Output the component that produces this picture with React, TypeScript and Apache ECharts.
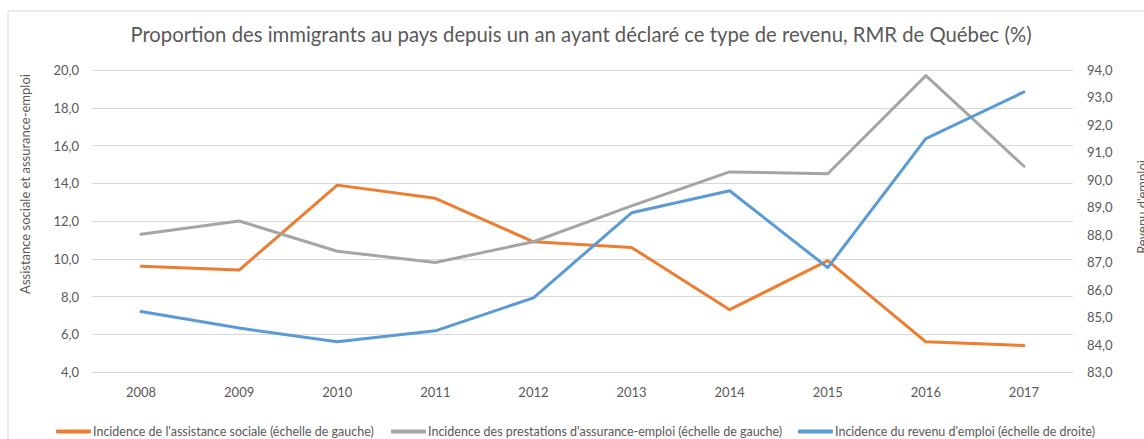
import React, { useEffect, useRef } from "react";
import * as echarts from "echarts";

const years = ["2008", "2009", "2010", "2011", "2012", "2013", "2014", "2015", "2016", "2017"];
const assistanceSociale = [9.6, 9.4, 13.9, 13.2, 10.9, 10.6, 7.3, 9.9, 5.6, 5.4];
const assuranceEmploi = [11.3, 12.0, 10.4, 9.8, 10.9, 12.8, 14.6, 14.5, 19.7, 14.9];
const revenuEmploi = [85.2, 84.6, 84.1, 84.5, 85.7, 88.8, 89.6, 86.8, 91.5, 93.2];

const seriesNames = [
  "Incidence de l'assistance sociale (échelle de gauche)",
  "Incidence des prestations d'assurance-emploi (échelle de gauche)",
  "Incidence du revenu d'emploi (échelle de droite)",
];
const colors = ["#ED7D31", "#A5A5A5", "#5B9BD5"];
const title = "Proportion des immigrants au pays depuis un an ayant déclaré ce type de revenu, RMR de Québec (%)";
const leftAxisName = "Assistance sociale et assurance-emploi";
const rightAxisName = "Revenu d'emploi";

const FONT = "Lato";
const TXT = "#595959";

export default function App() {
  const ref = useRef<HTMLDivElement>(null);
  useEffect(() => {
    document.body.style.margin = "0";
    const chart = echarts.init(ref.current!, null, { renderer: "svg" });
    const fmt = (v: number) => v.toFixed(1).replace(".", ",");
    const legendLefts = [56, 391, 798];
    chart.setOption({
      animation: false,
      textStyle: { fontFamily: FONT },
      title: {
        text: title,
        left: 581,
        top: 24,
        padding: 0,
        textAlign: "center",
        textStyle: { fontFamily: FONT, fontSize: 20.3, fontWeight: "normal", color: TXT },
      },
      grid: { left: 92, right: 71, top: 70, bottom: 67 },
      legend: seriesNames.map((n, i) => ({
        data: [n],
        left: legendLefts[i],
        top: 425,
        padding: 0,
        itemWidth: 35,
        itemHeight: 4,
        itemGap: 0,
        icon: "roundRect",
        textStyle: { fontFamily: FONT, fontSize: 12.5, color: TXT, padding: [0, 0, 0, -3] },
      })),
      xAxis: {
        type: "category",
        data: years,
        boundaryGap: true,
        axisLine: { show: true, lineStyle: { color: "#D9D9D9" } },
        axisTick: { show: false },
        axisLabel: { color: TXT, fontSize: 13, fontFamily: FONT, margin: 13 },
      },
      yAxis: [
        {
          type: "value",
          min: 4,
          max: 20,
          interval: 2,
          axisLine: { show: false },
          axisTick: { show: false },
          axisLabel: { color: TXT, fontSize: 13, fontFamily: FONT, margin: 13, formatter: fmt },
          splitLine: { lineStyle: { color: "#D9D9D9", width: 1 } },
        },
        {
          type: "value",
          min: 83,
          max: 94,
          interval: 1,
          axisLine: { show: false },
          axisTick: { show: false },
          axisLabel: { color: TXT, fontSize: 13, fontFamily: FONT, margin: 14, formatter: fmt },
          splitLine: { show: false },
        },
      ],
      graphic: [
        {
          type: "rect",
          shape: { x: 8, y: 11, width: 1300, height: 600 },
          style: { fill: "none", stroke: "#D9D9D9", lineWidth: 1 },
          silent: true,
          z: -10,
        },
        {
          type: "text",
          x: 25,
          y: 184,
          rotation: Math.PI / 2,
          style: { text: leftAxisName, fill: TXT, font: `13px ${FONT}`, align: "center", verticalAlign: "middle" },
        },
        {
          type: "text",
          x: 1142,
          y: 207,
          rotation: Math.PI / 2,
          style: { text: rightAxisName, fill: TXT, font: `13px ${FONT}`, align: "center", verticalAlign: "middle" },
        },
      ],
      series: [
        {
          name: seriesNames[0],
          type: "line",
          yAxisIndex: 0,
          data: assistanceSociale,
          showSymbol: false,
          symbol: "none",
          lineStyle: { color: colors[0], width: 3, cap: "round", join: "round" },
          itemStyle: { color: colors[0] },
        },
        {
          name: seriesNames[1],
          type: "line",
          yAxisIndex: 0,
          data: assuranceEmploi,
          showSymbol: false,
          symbol: "none",
          lineStyle: { color: colors[1], width: 3, cap: "round", join: "round" },
          itemStyle: { color: colors[1] },
        },
        {
          name: seriesNames[2],
          type: "line",
          yAxisIndex: 1,
          data: revenuEmploi,
          showSymbol: false,
          symbol: "none",
          lineStyle: { color: colors[2], width: 3, cap: "round", join: "round" },
          itemStyle: { color: colors[2] },
        },
      ],
    });
    return () => chart.dispose();
  }, []);
  return <div ref={ref} style={{ width: 1144, height: 439 }} />;
}
